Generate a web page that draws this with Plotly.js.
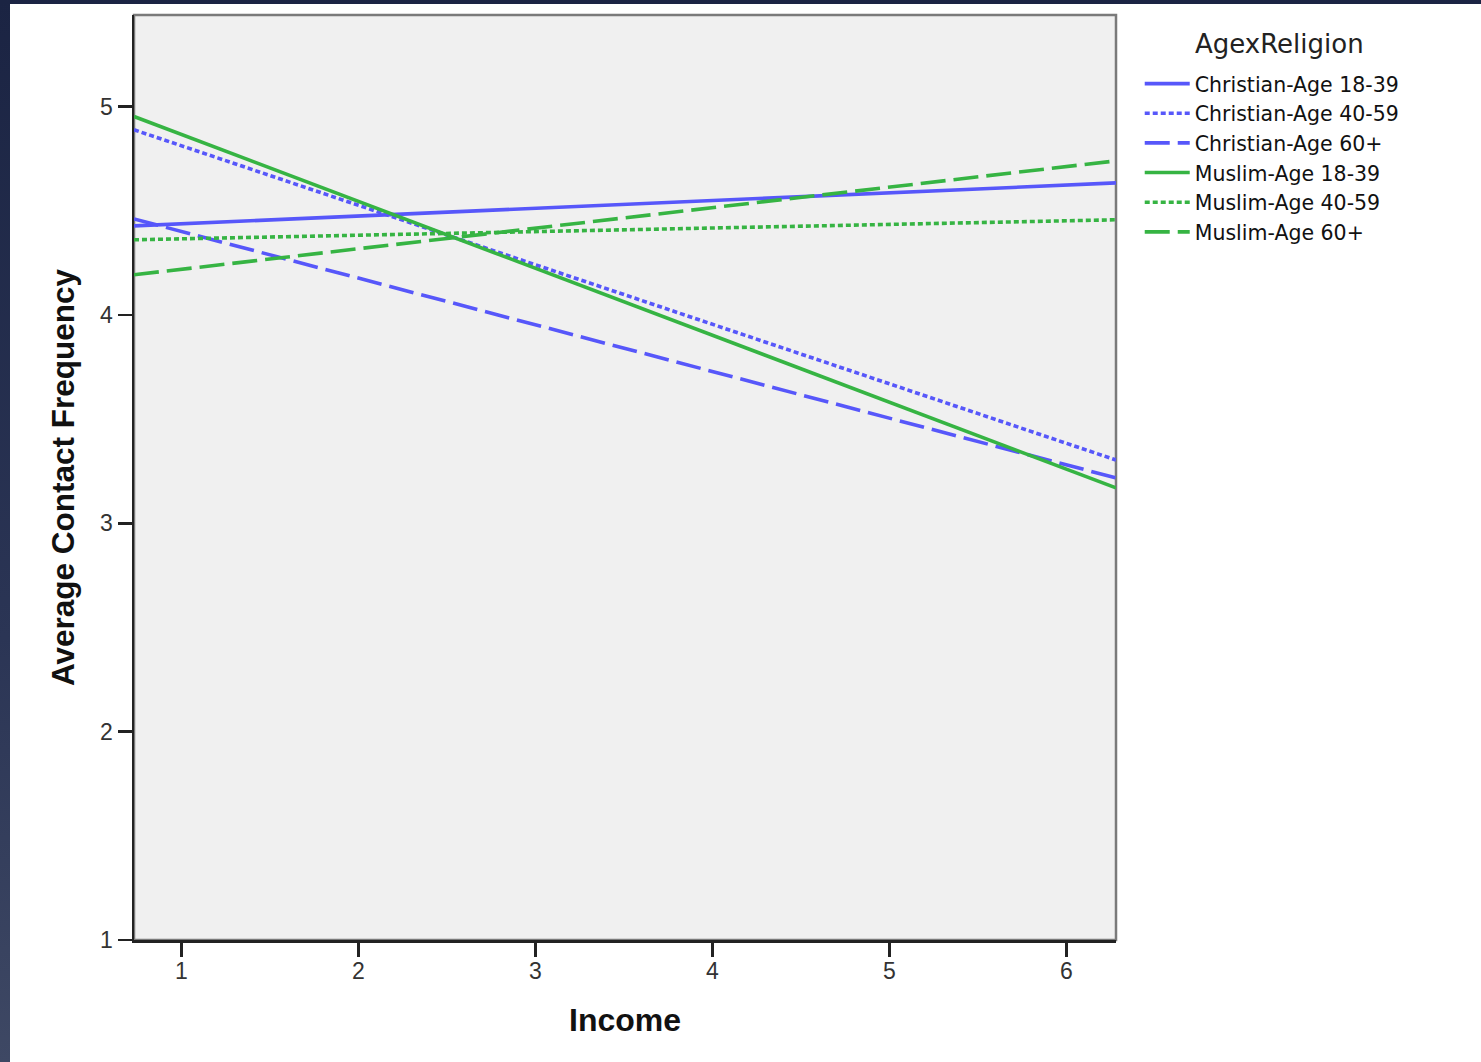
<!DOCTYPE html>
<html>
<head>
<meta charset="utf-8">
<script src="https://cdn.plot.ly/plotly-3.0.1.min.js"></script>
<style>
  html, body { margin: 0; padding: 0; width: 1481px; height: 1062px; overflow: hidden;
    background: linear-gradient(to bottom, #1b2443 0%, #2b3555 60%, #3e4864 100%); }
  #chart { position: absolute; left: 10px; top: 4px; width: 1471px; height: 1058px; background: #ffffff; }
</style>
</head>
<body>
<div id="chart"></div>
<script>
// Regression lines: values at the left and right ends of the Income axis
const incomeEnds = [0.733, 6.28];
const seriesNames = [
  "Christian-Age 18-39", "Christian-Age 40-59", "Christian-Age 60+",
  "Muslim-Age 18-39", "Muslim-Age 40-59", "Muslim-Age 60+"
];
const legendTitle = "AgexReligion";
const christian1839 = [4.428, 4.634];
const christian4059 = [4.889, 3.304];
const christian60 = [4.461, 3.218];
const muslim1839 = [4.953, 3.170];
const muslim4059 = [4.361, 4.457];
const muslim60 = [4.193, 4.740];
const xTicks = [1, 2, 3, 4, 5, 6];
const yTicks = [1, 2, 3, 4, 5];

const BLUE = "#5757fa";
const GREEN = "#36b443";
const DOT = "5px,3px";
const DASH = "25px,8px";

const values = [christian1839, christian4059, christian60, muslim1839, muslim4059, muslim60];
const colors = [BLUE, BLUE, BLUE, GREEN, GREEN, GREEN];
const dashes = ["solid", DOT, DASH, "solid", DOT, DASH];

const traces = values.map((v, i) => ({
  type: "scatter",
  mode: "lines",
  x: incomeEnds,
  y: v,
  name: seriesNames[i],
  line: { color: colors[i], width: 3.6, dash: dashes[i] },
  hoverinfo: "skip"
}));

// plot area geometry (within the chart div)
const ML = 124, MR = 365, MT = 11, MB = 122, W = 1471, H = 1058;
const PW = W - ML - MR, PH = H - MT - MB;

const layout = {
  width: W,
  height: H,
  margin: { l: ML, r: MR, t: MT, b: MB },
  paper_bgcolor: "#ffffff",
  plot_bgcolor: "#f0f0f0",
  font: { family: "Liberation Sans, Arial, sans-serif", color: "#222" },
  showlegend: true,
  legend: {
    xref: "container", yref: "container",
    x: 0.768, y: 0.9435, xanchor: "left", yanchor: "top",
    font: { family: "DejaVu Sans, sans-serif", size: 20.5, color: "#111" },
    itemwidth: 45,
    tracegroupgap: 0,
    bgcolor: "rgba(0,0,0,0)"
  },
  annotations: [{
    text: legendTitle, xref: "paper", yref: "paper",
    x: (1183 - ML) / PW, y: (PH + MT - 40) / PH, xanchor: "left", yanchor: "middle",
    showarrow: false, font: { family: "DejaVu Sans, sans-serif", size: 26, color: "#222" }
  }],
  xaxis: {
    range: [incomeEnds[0], incomeEnds[1]],
    tickvals: xTicks,
    ticktext: xTicks.map(String),
    ticks: "outside", ticklen: 14, tickwidth: 2.5, tickcolor: "#222",
    ticklabelstandoff: -5,
    tickfont: { size: 23, color: "#333" },
    showline: true, linecolor: "#222", linewidth: 2.5,
    showgrid: false, zeroline: false,
    title: { text: "<b>Income</b>", font: { size: 32, color: "#111" }, standoff: 26 }
  },
  yaxis: {
    range: [1, 5.44],
    tickvals: yTicks,
    ticktext: yTicks.map(String),
    ticks: "outside", ticklen: 14, tickwidth: 2.5, tickcolor: "#222",
    tickfont: { size: 23, color: "#333" },
    showline: true, linecolor: "#222", linewidth: 2.5,
    showgrid: false, zeroline: false,
    title: { text: "<b>Average Contact Frequency</b>", font: { size: 31.5, color: "#111" }, standoff: 16 }
  },
  shapes: [{
    type: "rect", xref: "paper", yref: "paper", x0: 0, x1: 1, y0: 0, y1: 1,
    line: { color: "#7a7a7a", width: 2.5 }, layer: "below"
  }]
};

Plotly.newPlot("chart", traces, layout, { displayModeBar: false, staticPlot: true });
</script>
</body>
</html>
